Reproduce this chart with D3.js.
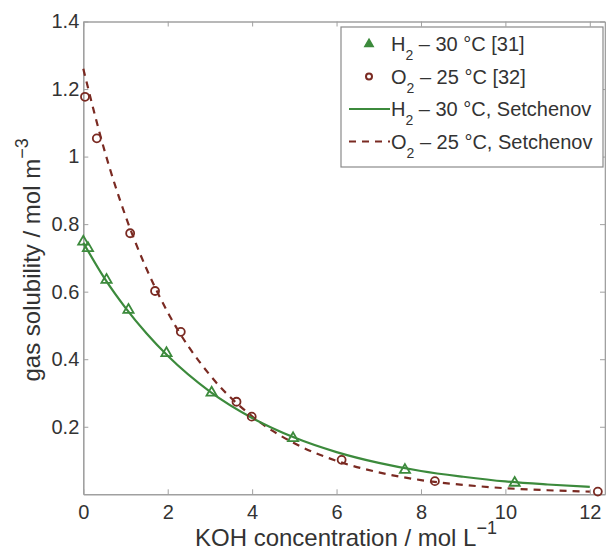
<!DOCTYPE html>
<html lang="en">
<head>
<meta charset="utf-8">
<script src="https://d3js.org/d3.v7.min.js"></script>
<style>
  body { margin: 0; background: #fff; }
  svg { display: block; font-family: "Liberation Sans", Arial, sans-serif; }
</style>
</head>
<body>
<script>
const h2X = [0, 0.11, 0.55, 1.07, 1.97, 3.04, 4.97, 7.62, 10.22];
const h2Y = [0.748, 0.729, 0.635, 0.546, 0.418, 0.301, 0.166, 0.072, 0.034];
const o2X = [0.04, 0.32, 1.11, 1.70, 2.31, 3.63, 3.99, 6.12, 8.33, 12.19];
const o2Y = [1.177, 1.054, 0.773, 0.602, 0.481, 0.274, 0.230, 0.102, 0.039, 0.008];

const fitX = [0, 0.5, 1, 1.5, 2, 3, 4, 5, 6, 7, 8, 9, 10, 11, 12];
const h2Fit = [0.745, 0.640, 0.552, 0.476, 0.410, 0.304, 0.226, 0.168, 0.125, 0.093, 0.069, 0.052, 0.038, 0.029, 0.022];
const o2Fit = [1.26, 1.019, 0.824, 0.667, 0.539, 0.353, 0.231, 0.151, 0.099, 0.065, 0.042, 0.028, 0.018, 0.012, 0.008];

const xTicks = [0, 2, 4, 6, 8, 10, 12];
const yTicks = [0.2, 0.4, 0.6, 0.8, 1, 1.2, 1.4];

const W = 606, H = 553;
const pLeft = 83.3, pRight = 605, pTop = 21.5, pBottom = 494.3;
const green = "#3c8a3c", brown = "#7a2a22";

const svg = d3.select("body").append("svg").attr("width", W).attr("height", H);

const x = d3.scaleLinear().domain([0, 12.36]).range([pLeft, pRight]);
const y = d3.scaleLinear().domain([0, 1.4]).range([pBottom, pTop]);

// axes box with inward ticks
const axCol = "#a0a0a0", txtCol = "#333";
function styleAxis(g, showLabels) {
  g.select(".domain").attr("stroke", axCol).attr("stroke-width", 1.6);
  g.selectAll(".tick line").attr("stroke", axCol).attr("stroke-width", 1);
  g.selectAll(".tick text").attr("fill", txtCol).style("font-size", "20px")
    .style("display", showLabels ? null : "none");
}
const fmtY = d => String(+d.toFixed(1));
svg.append("g").attr("transform", `translate(0,${pBottom})`)
  .call(d3.axisBottom(x).tickValues(xTicks).tickSize(-5).tickPadding(11).tickSizeOuter(0))
  .call(g => styleAxis(g, true));
svg.append("g").attr("transform", `translate(0,${pTop})`)
  .call(d3.axisTop(x).tickValues(xTicks).tickSize(-5).tickSizeOuter(0))
  .call(g => styleAxis(g, false));
svg.append("g").attr("transform", `translate(${pLeft},0)`)
  .call(d3.axisLeft(y).tickValues(yTicks).tickFormat(fmtY).tickSize(-5).tickPadding(4).tickSizeOuter(0))
  .call(g => styleAxis(g, true));
svg.append("g").attr("transform", `translate(${pRight},0)`)
  .call(d3.axisRight(y).tickValues(yTicks).tickSize(-5).tickSizeOuter(0))
  .call(g => styleAxis(g, false));
svg.selectAll("g").attr("font-family", null);

// curves
const line = d3.line().x(d => x(d[0])).y(d => y(d[1])).curve(d3.curveMonotoneX);
svg.append("path").datum(d3.zip(fitX, o2Fit)).attr("d", line)
  .attr("fill", "none").attr("stroke", brown).attr("stroke-width", 2.2).attr("stroke-dasharray", "7,6");
svg.append("path").datum(d3.zip(fitX, h2Fit)).attr("d", line)
  .attr("fill", "none").attr("stroke", green).attr("stroke-width", 2.2);

// markers
const tri = d3.symbol().type(d3.symbolTriangle).size(45);
svg.selectAll(".h2").data(d3.zip(h2X, h2Y)).join("path").attr("class", "h2")
  .attr("d", tri).attr("transform", d => `translate(${x(d[0])},${y(d[1])})`)
  .attr("fill", "none").attr("stroke", green).attr("stroke-width", 1.8);
svg.selectAll(".o2").data(d3.zip(o2X, o2Y)).join("circle").attr("class", "o2")
  .attr("cx", d => x(d[0])).attr("cy", d => y(d[1])).attr("r", 4)
  .attr("fill", "none").attr("stroke", brown).attr("stroke-width", 1.8);

// legend
const lg = svg.append("g");
lg.append("rect").attr("x", 341).attr("y", 27).attr("width", 262).attr("height", 140)
  .attr("fill", "#fff").attr("stroke", "#8a8a8a").attr("stroke-width", 1.2);
const entries = [
  { gas: "H", rest: " – 30 °C [31]", kind: "tri" },
  { gas: "O", rest: " – 25 °C [32]", kind: "circ" },
  { gas: "H", rest: " – 30 °C, Setchenov", kind: "solid" },
  { gas: "O", rest: " – 25 °C, Setchenov", kind: "dash" }
];
entries.forEach((e, i) => {
  const cy = 44 + i * 32.5;
  if (e.kind === "tri") {
    lg.append("path").attr("d", d3.symbol().type(d3.symbolTriangle).size(30)())
      .attr("transform", `translate(369,${cy})`).attr("fill", green).attr("stroke", green).attr("stroke-width", 1.5);
  } else if (e.kind === "circ") {
    lg.append("circle").attr("cx", 369).attr("cy", cy).attr("r", 3)
      .attr("fill", "none").attr("stroke", brown).attr("stroke-width", 2);
  } else {
    lg.append("line").attr("x1", 349).attr("x2", 390).attr("y1", cy).attr("y2", cy)
      .attr("stroke", e.kind === "solid" ? green : brown).attr("stroke-width", 2)
      .attr("stroke-dasharray", e.kind === "dash" ? "7,6" : null);
  }
  const t = lg.append("text").attr("x", 391).attr("y", cy + 7).attr("fill", txtCol).style("font-size", "20px");
  t.append("tspan").text(e.gas);
  t.append("tspan").attr("dy", 9).style("font-size", "14px").text("2");
  t.append("tspan").attr("dy", -9).text(e.rest);
});

// axis titles
const xt = svg.append("text").attr("x", 346).attr("y", 546)
  .attr("text-anchor", "middle").attr("fill", txtCol).style("font-size", "24px");
xt.append("tspan").text("KOH concentration / mol L");
xt.append("tspan").attr("dy", -12).style("font-size", "18px").text("−1");

const yt = svg.append("text").attr("transform", `translate(40,${(pTop + pBottom) / 2 + 2}) rotate(-90)`)
  .attr("text-anchor", "middle").attr("fill", txtCol).style("font-size", "24px");
yt.append("tspan").text("gas solubility / mol m");
yt.append("tspan").attr("dy", -12).style("font-size", "18px").text("−3");
</script>
</body>
</html>
